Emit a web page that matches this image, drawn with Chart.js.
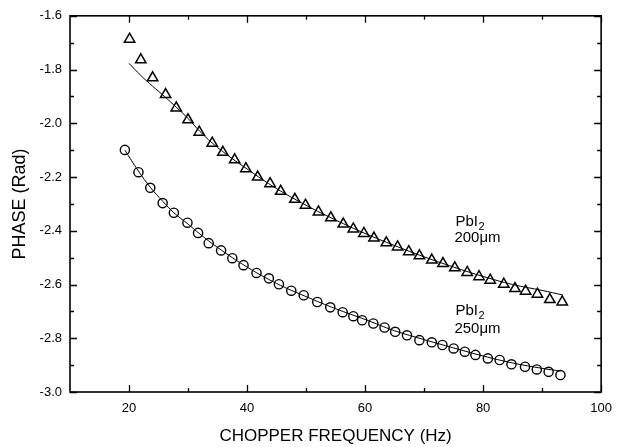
<!DOCTYPE html>
<html>
<head>
<meta charset="utf-8">
<script src="https://cdn.jsdelivr.net/npm/chart.js@4/dist/chart.umd.min.js"></script>
<style>
  html, body { margin: 0; padding: 0; background: #fff; }
  #wrap { width: 621px; height: 447px; }
</style>
</head>
<body>
<div id="wrap"><canvas id="c" width="621" height="447"></canvas></div>
<script>
// ---- Data ----
const triFreq = [20.1, 22.0, 24.0, 26.2, 28.0, 30.0, 31.9, 34.1, 35.9, 37.9, 39.8, 41.8, 43.9, 45.7, 48.1, 49.9, 52.1, 54.2, 56.3, 58.0, 59.8, 61.5, 63.6, 65.5, 67.4, 69.2, 71.3, 73.2, 75.2, 77.3, 79.3, 81.2, 83.5, 85.4, 87.2, 89.2, 91.3, 93.4];
const triPhase = [-1.687, -1.764, -1.831, -1.893, -1.943, -1.987, -2.033, -2.074, -2.108, -2.136, -2.169, -2.200, -2.225, -2.253, -2.283, -2.305, -2.330, -2.352, -2.375, -2.393, -2.410, -2.427, -2.445, -2.460, -2.478, -2.493, -2.509, -2.522, -2.538, -2.555, -2.571, -2.584, -2.599, -2.615, -2.625, -2.636, -2.656, -2.665];

const circFreq = [19.3, 21.6, 23.6, 25.7, 27.6, 29.9, 31.7, 33.5, 35.6, 37.5, 39.4, 41.6, 43.7, 45.4, 47.5, 49.6, 51.9, 54.1, 56.2, 58.0, 59.5, 61.4, 63.3, 65.1, 67.1, 69.2, 71.3, 73.1, 75.0, 76.9, 78.7, 80.8, 82.8, 84.8, 87.1, 89.1, 91.1, 93.1];
const circPhase = [-2.099, -2.182, -2.240, -2.297, -2.333, -2.370, -2.408, -2.446, -2.473, -2.502, -2.528, -2.557, -2.577, -2.599, -2.623, -2.640, -2.665, -2.685, -2.703, -2.718, -2.733, -2.745, -2.760, -2.776, -2.789, -2.807, -2.815, -2.825, -2.838, -2.850, -2.862, -2.875, -2.881, -2.897, -2.906, -2.916, -2.925, -2.937];

const fitTriFreq = [20, 22, 24, 26, 28, 30, 32, 35, 40, 45, 50, 55, 60, 65, 70, 75, 80, 85, 90, 93.5];
const fitTriPhase = [-1.777, -1.822, -1.862, -1.900, -1.940, -1.982, -2.030, -2.090, -2.170, -2.243, -2.305, -2.360, -2.410, -2.455, -2.497, -2.535, -2.570, -2.600, -2.622, -2.639];

const fitCircFreq = [19.3, 21.6, 23.6, 25.7, 27.6, 30, 32, 35, 40, 45, 50, 55, 60, 65, 70, 75, 80, 85, 90, 93.1];
const fitCircPhase = [-2.100, -2.178, -2.238, -2.290, -2.333, -2.375, -2.412, -2.462, -2.535, -2.596, -2.645, -2.690, -2.730, -2.772, -2.805, -2.836, -2.866, -2.892, -2.912, -2.922];

const xTickValues = [20, 40, 60, 80, 100];
const xMinorValues = [30, 50, 70, 90];
const yTickValues = [-3.0, -2.8, -2.6, -2.4, -2.2, -2.0, -1.8, -1.6];
const yMinorValues = [-2.9, -2.7, -2.5, -2.3, -2.1, -1.9, -1.7];

const xTitle = 'CHOPPER FREQUENCY (Hz)';
const yTitle = 'PHASE (Rad)';
const labelMaterial = 'PbI';
const labelSub = '2';
const labelThick1 = '200\u03bcm';
const labelThick2 = '250\u03bcm';

const pts = (xs, ys) => xs.map((x, i) => ({x: x, y: ys[i]}));
const FONT = '"Liberation Sans", Arial, Helvetica, sans-serif';

const frame = {
  id: 'frame',
  afterDatasetsDraw(chart) {
    const {ctx, chartArea: a, scales: {x, y}} = chart;
    ctx.save();
    ctx.strokeStyle = '#000';
    ctx.lineWidth = 1.6;
    ctx.strokeRect(a.left, a.top, a.right - a.left, a.bottom - a.top);
    ctx.lineWidth = 1.3;
    const major = 7, minor = 4;
    ctx.beginPath();
    const xt = (v, len) => {
      const px = Math.round(x.getPixelForValue(v)) + 0.5;
      ctx.moveTo(px, a.bottom); ctx.lineTo(px, a.bottom - len);
      ctx.moveTo(px, a.top); ctx.lineTo(px, a.top + len);
    };
    const yt = (v, len) => {
      const py = Math.round(y.getPixelForValue(v)) + 0.5;
      ctx.moveTo(a.left, py); ctx.lineTo(a.left + len, py);
      ctx.moveTo(a.right, py); ctx.lineTo(a.right - len, py);
    };
    xTickValues.forEach(v => xt(v, major));
    xMinorValues.forEach(v => xt(v, minor));
    yTickValues.forEach(v => yt(v, major));
    yMinorValues.forEach(v => yt(v, minor));
    ctx.stroke();

    // annotations
    ctx.fillStyle = '#000';
    ctx.textBaseline = 'alphabetic';
    ctx.textAlign = 'left';
    const drawLabel = (fx, py1, py2, thick) => {
      const px = x.getPixelForValue(fx);
      const b1 = y.getPixelForValue(py1);
      const b2 = y.getPixelForValue(py2);
      ctx.font = '15px ' + FONT;
      ctx.fillText(labelMaterial, px, b1);
      const w = ctx.measureText(labelMaterial).width;
      ctx.font = '11px ' + FONT;
      ctx.fillText(labelSub, px + w + 0.5, b1 + 4);
      ctx.font = '15px ' + FONT;
      ctx.fillText(thick, px - 1, b2);
    };
    drawLabel(75.3, -2.384, -2.443, labelThick1);
    drawLabel(75.3, -2.714, -2.781, labelThick2);
    ctx.restore();
  }
};

new Chart(document.getElementById('c'), {
  type: 'scatter',
  data: {
    datasets: [
      { data: pts(fitTriFreq, fitTriPhase), showLine: true, borderColor: '#000', borderWidth: 1, pointRadius: 0, tension: 0.4, fill: false },
      { data: pts(fitCircFreq, fitCircPhase), showLine: true, borderColor: '#000', borderWidth: 1, pointRadius: 0, tension: 0.4, fill: false },
      { data: pts(triFreq, triPhase), showLine: false, pointStyle: 'triangle', pointRadius: 6, borderColor: '#000', borderWidth: 1.5, backgroundColor: 'rgba(0,0,0,0)' },
      { data: pts(circFreq, circPhase), showLine: false, pointStyle: 'circle', pointRadius: 4.6, borderColor: '#000', borderWidth: 1.4, backgroundColor: 'rgba(0,0,0,0)' }
    ]
  },
  options: {
    responsive: false,
    animation: false,
    devicePixelRatio: 1,
    layout: { padding: { top: 15, right: 15, left: 0, bottom: 0 } },
    plugins: { legend: { display: false }, tooltip: { enabled: false } },
    scales: {
      x: {
        type: 'linear', min: 10, max: 100,
        grid: { display: false, drawTicks: false },
        border: { display: false },
        afterBuildTicks: s => { s.ticks = xTickValues.map(v => ({value: v})); },
        afterFit: s => { s.height = 55; },
        ticks: { color: '#000', padding: 9, font: { family: FONT, size: 13 }, maxRotation: 0, callback: v => String(v) },
        title: { display: true, text: xTitle, color: '#000', font: { family: FONT, size: 17 }, padding: { top: 0, bottom: 0 } }
      },
      y: {
        type: 'linear', min: -3.0, max: -1.6,
        grid: { display: false, drawTicks: false },
        border: { display: false },
        afterBuildTicks: s => { s.ticks = yTickValues.map(v => ({value: v})); },
        afterFit: s => { s.width = 70; },
        ticks: { color: '#000', padding: 8, font: { family: FONT, size: 13 }, callback: v => Number(v).toFixed(1) },
        title: { display: true, text: yTitle, color: '#000', font: { family: FONT, size: 18 }, padding: { top: 9, bottom: 0 } }
      }
    }
  },
  plugins: [frame]
});
</script>
</body>
</html>
